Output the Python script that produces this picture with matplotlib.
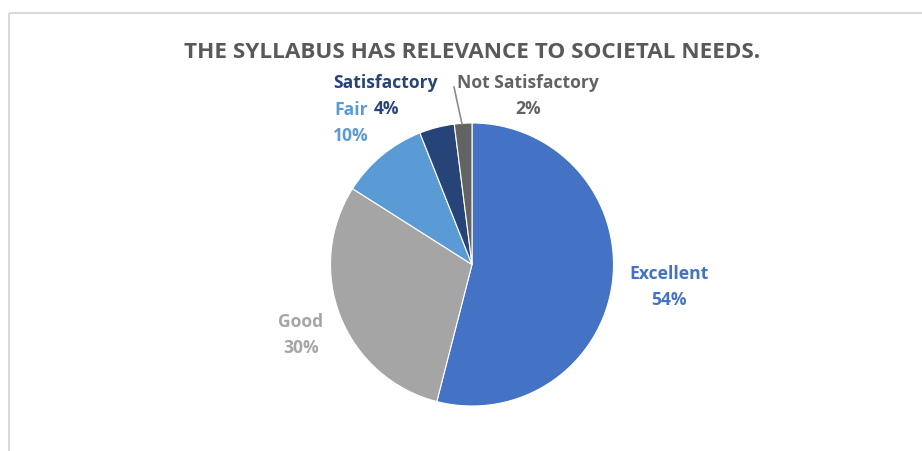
import matplotlib
matplotlib.use("Agg")
import matplotlib.pyplot as plt

categories = ["Excellent", "Good", "Fair", "Satisfactory", "Not Satisfactory"]
values = [54, 30, 10, 4, 2]
colors = ["#4472C4", "#A5A5A5", "#5B9BD5", "#264478", "#636363"]
title = "THE SYLLABUS HAS RELEVANCE TO SOCIETAL NEEDS."

W, H = 922, 452
fig = plt.figure(figsize=(W / 100, H / 100), dpi=100)
ax = fig.add_axes([0, 0, 1, 1])
ax.set_xlim(0, W)
ax.set_ylim(0, H)
ax.set_aspect("equal")
ax.axis("off")

def Y(py):
    return H - py

# chart border (light gray, extends past right/bottom)
ax.plot([9, W], [Y(14), Y(14)], color="#D9D9D9", lw=1.5, solid_capstyle="butt")
ax.plot([9, 9], [Y(14), 0], color="#D9D9D9", lw=1.5, solid_capstyle="butt")

cx, cy, r = 472, 265.5, 141.5
ax.pie(values, colors=colors, startangle=90, counterclock=False,
       center=(cx, Y(cy)), radius=r, frame=True,
       wedgeprops=dict(edgecolor="white", linewidth=0.8))
ax.set_xlim(0, W)
ax.set_ylim(0, H)
ax.axis("off")

font = "Open Sans"
ax.text(472, Y(53), title, ha="center", va="center", fontsize=16.2,
        fontweight="bold", fontstretch="normal", color="#595959", family=font)

label_pos = {
    "Excellent": (669, 274),
    "Good": (301, 322),
    "Fair": (351, 110),
    "Satisfactory": (386, 83),
    "Not Satisfactory": (528, 83),
}
line_gap = 26
for cat, val, col in zip(categories, values, colors):
    x, y = label_pos[cat]
    ax.text(x, Y(y), cat, ha="center", va="center", fontsize=12.6,
            fontweight="bold", fontstretch="normal", color=col, family=font)
    ax.text(x, Y(y + line_gap), f"{val}%", ha="center", va="center",
            fontsize=12.6, fontweight="bold", fontstretch="normal", color=col, family=font)

# leader line for Not Satisfactory
ax.plot([454, 462], [Y(88), Y(125)], color="#8C8C8C", lw=1.2)

fig.savefig("out.png", dpi=100, facecolor="white")
